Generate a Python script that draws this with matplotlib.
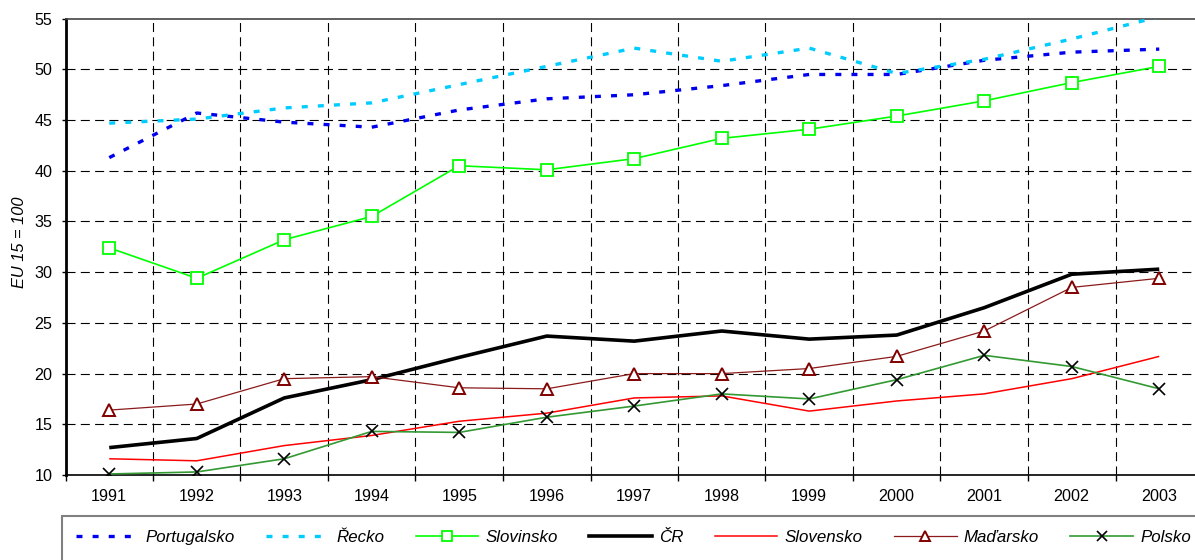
import matplotlib
matplotlib.use("Agg")
import matplotlib.pyplot as plt
from matplotlib.lines import Line2D
from matplotlib.patches import Rectangle
import numpy as np

plt.rcParams['font.family'] = ['Liberation Sans', 'DejaVu Sans']
plt.rcParams['lines.scale_dashes'] = False

years = ["1991", "1992", "1993", "1994", "1995", "1996", "1997",
         "1998", "1999", "2000", "2001", "2002", "2003"]

portugalsko = [41.3, 45.7, 44.8, 44.3, 46.0, 47.1, 47.5, 48.4, 49.5, 49.5, 50.9, 51.7, 52.0]
recko = [44.7, 45.1, 46.2, 46.7, 48.5, 50.3, 52.1, 50.8, 52.1, 49.6, 51.0, 53.0, 55.2]
slovinsko = [32.4, 29.4, 33.2, 35.5, 40.5, 40.1, 41.2, 43.2, 44.1, 45.4, 46.9, 48.7, 50.3]
cr = [12.7, 13.6, 17.6, 19.4, 21.6, 23.7, 23.2, 24.2, 23.4, 23.8, 26.5, 29.8, 30.3]
slovensko = [11.6, 11.4, 12.9, 13.9, 15.3, 16.1, 17.6, 17.8, 16.3, 17.3, 18.0, 19.5, 21.7]
madarsko = [16.4, 17.0, 19.5, 19.7, 18.6, 18.5, 20.0, 20.0, 20.5, 21.7, 24.2, 28.5, 29.4]
polsko = [10.1, 10.3, 11.6, 14.3, 14.2, 15.7, 16.8, 18.0, 17.5, 19.4, 21.8, 20.7, 18.5]

y_ticks = [10, 15, 20, 25, 30, 35, 40, 45, 50, 55]

W, H = 1195, 560
fig = plt.figure(figsize=(W / 100, H / 100), dpi=100)
ax = fig.add_axes([65.5 / W, 1 - 475 / H, (1203 - 65.5) / W, (475 - 18.7) / H])

x = np.arange(len(years))
dash_thick = (0, (4.3, 7.3))

series = [
    dict(y=portugalsko, label="Portugalsko", color="#0000EE", lw=2.4, ls=dash_thick, marker=None),
    dict(y=recko, label="Řecko", color="#00CCFF", lw=2.4, ls=dash_thick, marker=None),
    dict(y=slovinsko, label="Slovinsko", color="#00FF00", lw=1.2, ls="-", marker="s",
         mfc="white", mec="#00FF00", ms=8, mew=1.3),
    dict(y=cr, label="ČR", color="black", lw=2.6, ls="-", marker=None),
    dict(y=slovensko, label="Slovensko", color="#FF0000", lw=1.1, ls="-", marker=None),
    dict(y=madarsko, label="Maďarsko", color="#8B1A1A", lw=0.9, ls="-", marker="^",
         mfc="white", mec="#800000", ms=8.5, mew=1.4),
    dict(y=polsko, label="Polsko", color="#339933", lw=1.2, ls="-", marker="x",
         mfc="black", mec="black", ms=8, mew=1.2),
]

# draw order: cyan behind blue where they overlap
order = [1, 0, 2, 5, 4, 6, 3]
for i in order:
    s = series[i]
    kw = {}
    if s["marker"]:
        kw = dict(marker=s["marker"], markerfacecolor=s["mfc"], markeredgecolor=s["mec"],
                  markersize=s["ms"], markeredgewidth=s["mew"])
    ax.plot(x, s["y"], color=s["color"], lw=s["lw"], linestyle=s["ls"],
            solid_capstyle="butt", dash_capstyle="butt", zorder=3 + i * 0.01, **kw)

ax.set_xlim(-0.5, len(years) - 0.5)
ax.set_ylim(10, 55)
ax.set_yticks(y_ticks)
ax.set_yticklabels([str(v) for v in y_ticks])
ax.set_xticks(x)
ax.set_xticklabels(years)
ax.set_xticks(np.arange(len(years) + 1) - 0.5, minor=True)

grid_ls = (0, (6.5, 3.8))
for v in y_ticks[1:-1]:
    ax.axhline(v, color="black", lw=0.8, linestyle=grid_ls, zorder=1)
for b in np.arange(1, len(years)) - 0.5:
    ax.axvline(b, color="black", lw=0.8, linestyle=grid_ls, zorder=1)

ax.tick_params(axis="x", which="major", length=0, pad=10, labelsize=11.6)
ax.tick_params(axis="x", which="minor", length=4, width=1, direction="out")
ax.tick_params(axis="y", length=3, width=1, pad=6.5, labelsize=11.6, direction="out")

ax.spines["left"].set_linewidth(2)
ax.spines["bottom"].set_linewidth(1.2)
ax.spines["top"].set_color("#444444")
ax.spines["top"].set_linewidth(1.2)
ax.spines["right"].set_visible(False)

ax.set_ylabel("EU 15 = 100", fontsize=11.8, style="italic")
ax.yaxis.set_label_coords(-(65.5 - 27) / (1203 - 65.5), 0.509)

# legend box with a single row of entries
fig.patches.append(Rectangle((62 / W, -0.05), 1.1, (560 * 1.05 - 516) / H,
                             transform=fig.transFigure, facecolor="white",
                             edgecolor="#808080", lw=1.5, zorder=0))
handles = []
for s in series:
    kw = {}
    if s["marker"]:
        kw = dict(marker=s["marker"], markerfacecolor=s["mfc"], markeredgecolor=s["mec"],
                  markersize=s["ms"] * 0.9, markeredgewidth=s["mew"])
    handles.append(Line2D([], [], color=s["color"], lw=s["lw"], linestyle=s["ls"], **kw))
leg = fig.legend(handles, [s["label"] for s in series], ncol=7, frameon=False,
                 loc="center left", bbox_to_anchor=(76 / W, 1 - 537.5 / H),
                 handlelength=3.7, handletextpad=0.42, columnspacing=1.85,
                 prop=dict(size=12.2, style="italic"), borderaxespad=0, borderpad=0)

fig.savefig("out.png", dpi=100)
